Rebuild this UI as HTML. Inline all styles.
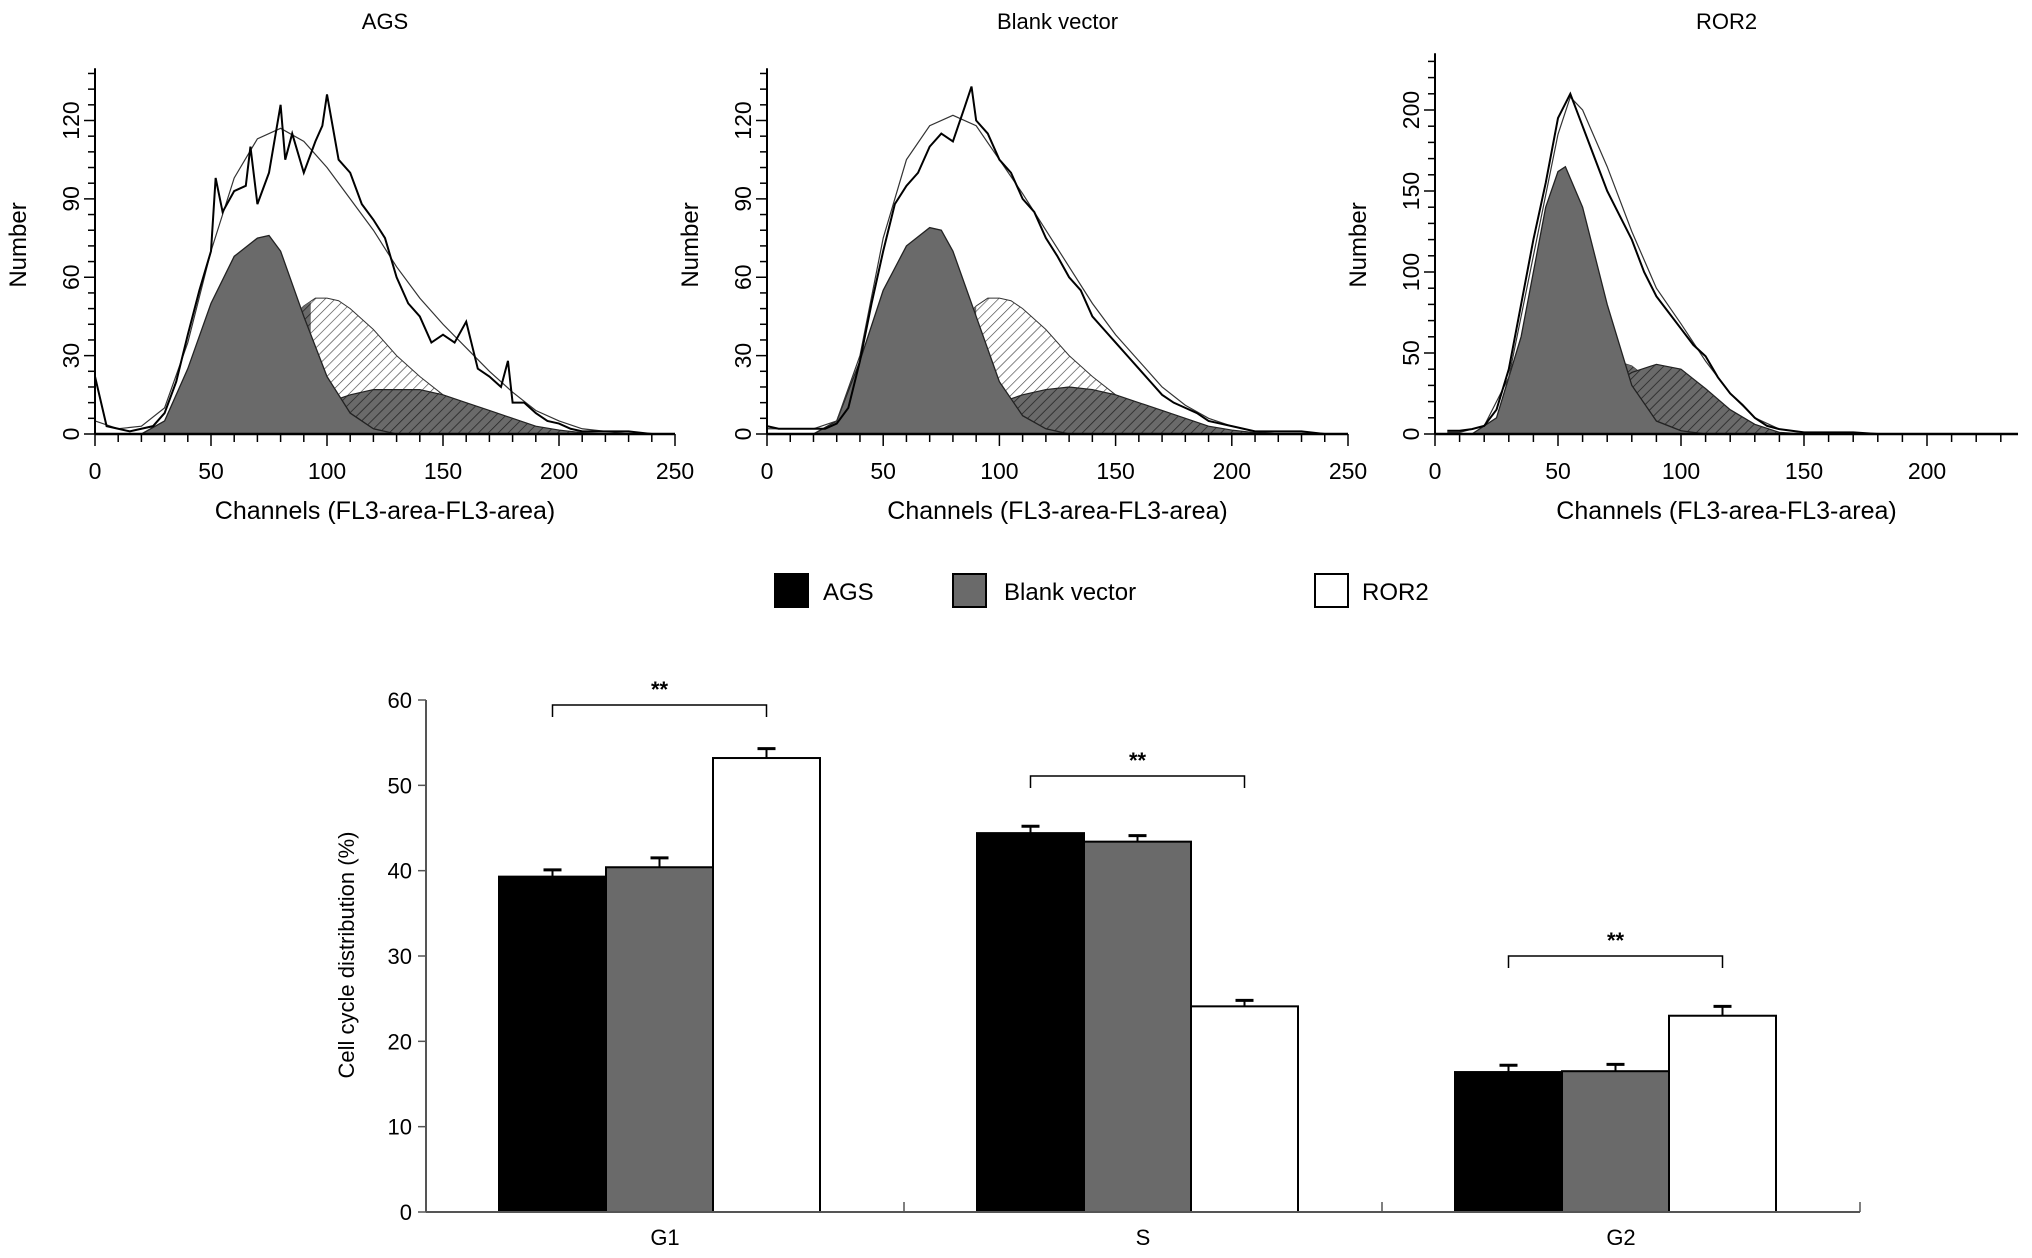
<!DOCTYPE html>
<html><head><meta charset="utf-8">
<style>
html,body{margin:0;padding:0;background:#fff;}
svg{display:block;font-family:"Liberation Sans",Arial,sans-serif;}
</style></head>
<body>
<svg id="fig" width="2032" height="1258" viewBox="0 0 2032 1258">
<defs>
<pattern id="hatchLight" width="7" height="7" patternUnits="userSpaceOnUse" patternTransform="rotate(45)">
<rect width="7" height="7" fill="#fff"/><line x1="0" y1="0" x2="0" y2="7" stroke="#444" stroke-width="1.3"/></pattern>
<pattern id="hatchDark" width="7" height="7" patternUnits="userSpaceOnUse" patternTransform="rotate(45)">
<rect width="7" height="7" fill="#6a6a6a"/><line x1="0" y1="0" x2="0" y2="7" stroke="#222" stroke-width="1.5"/></pattern>
</defs>
</svg>
<script>
// ---------- Histogram data ----------
const agsRawX=[0,5,10,15,20,25,30,35,40,45,50,52,55,60,65,67,70,75,80,82,85,90,95,98,100,105,110,115,120,125,130,135,140,145,150,155,160,165,170,175,178,180,185,190,195,200,205,210,220,230,240,250];
const agsRawY=[22,3,2,1,2,3,8,20,38,55,70,98,85,93,95,110,88,100,126,105,115,100,112,118,130,105,100,88,82,75,60,50,45,35,38,35,43,25,22,18,28,12,12,8,5,4,2,1,1,1,0,0];
const agsFitX=[0,10,20,30,40,50,60,70,80,90,100,110,120,130,140,150,160,170,180,190,200,210,220,230,250];
const agsFitY=[5,2,3,10,35,70,98,113,117,112,102,90,78,64,52,42,33,24,16,9,5,2,1,0,0];
const agsG1X=[20,30,40,50,60,70,75,80,90,100,110,120,130];
const agsG1Y=[0,5,25,50,68,75,76,70,45,22,8,2,0];
const agsSX=[30,40,50,60,70,80,90,95,100,105,110,120,130,140,150,160,170,180,190,200];
const agsSY=[0,3,8,17,28,40,49,52,52,51,48,40,30,22,15,9,5,2,1,0];
const agsG2X=[20,40,60,80,100,110,120,130,140,150,160,170,180,190,200,210,220];
const agsG2Y=[0,1,4,8,12,15,17,17,17,15,12,9,6,3,1.5,0.5,0];

const bvRawX=[0,5,10,15,20,25,30,35,40,45,50,55,60,65,70,75,80,85,88,90,95,100,105,110,115,120,125,130,135,140,145,150,155,160,165,170,175,180,185,190,195,200,205,210,220,230,240,250];
const bvRawY=[3,2,2,2,2,2,4,10,28,50,70,88,95,100,110,115,112,125,133,120,115,105,100,90,85,75,68,60,55,45,40,35,30,25,20,15,12,10,8,5,4,3,2,1,1,1,0,0];
const bvFitX=[0,20,30,40,50,60,70,80,90,100,110,120,130,140,150,160,170,180,190,200,210,220,250];
const bvFitY=[2,2,5,30,75,105,118,122,118,105,92,78,64,50,38,28,18,11,6,3,1,0,0];
const bvG1X=[20,30,40,50,60,70,75,80,90,100,110,120,130];
const bvG1Y=[0,5,28,55,72,79,78,70,45,20,7,2,0];
const bvSX=[30,40,50,60,70,80,90,95,100,105,110,120,130,140,150,160,170,180,190,200];
const bvSY=[0,3,8,17,28,40,49,52,52,51,48,40,30,22,15,9,5,2,1,0];
const bvG2X=[20,40,60,80,100,110,120,130,140,150,160,170,180,190,200,210,220];
const bvG2Y=[0,1,4,8,12,15,17,18,17,15,12,9,6,3,1.5,0.5,0];

const rRawX=[5,10,15,20,25,30,35,40,45,50,55,60,65,70,75,80,85,90,95,100,105,110,115,120,125,130,135,140,145,150,160,170,180,200,230];
const rRawY=[2,2,3,5,15,40,80,120,155,195,210,190,170,150,135,120,100,85,75,65,55,48,35,25,18,10,5,3,2,1,1,1,0,0,0];
const rFitX=[5,10,20,30,40,50,55,60,70,80,90,100,110,120,130,140,150,160,230];
const rFitY=[1,1,5,35,110,185,208,200,165,125,90,68,45,25,10,3,1,0,0];
const rG1X=[15,25,35,45,50,53,60,70,80,90,100,110];
const rG1Y=[0,10,60,140,162,165,140,80,30,8,2,0];
const rSX=[30,40,50,60,70,80,90,100,110,120,130];
const rSY=[0,8,25,40,47,42,30,18,8,3,0];
const rG2X=[40,50,60,70,80,90,100,110,120,130,140,150];
const rG2Y=[0,5,15,28,38,43,40,28,15,6,1,0];

// ---------- Bar chart data ----------
const phases=["G1","S","G2"];
const groups=["AGS","Blank vector","ROR2"];
const agsVals=[39.3,44.4,16.4];
const bvVals=[40.4,43.4,16.5];
const rorVals=[53.2,24.1,23.0];
const agsErr=[0.8,0.8,0.8];
const bvErr=[1.1,0.7,0.8];
const rorErr=[1.1,0.7,1.1];
const barTicks=[0,10,20,30,40,50,60];

const NS="http://www.w3.org/2000/svg";
const svg=document.getElementById("fig");
function mk(tag,attrs,parent){const e=document.createElementNS(NS,tag);for(const k in attrs)e.setAttribute(k,attrs[k]);(parent||svg).appendChild(e);return e;}
function txt(s,attrs,parent){const t=mk("text",attrs,parent);t.textContent=s;return t;}

const panels=[
 {title:"AGS",x0:95,xpx:(675-95)/250,xmax:250,ymaxAxis:140,ypx:(434-120.5)/120,yMajor:30,yMinor:6,yLabMax:120,xLabs:[0,50,100,150,200,250],rx:agsRawX,ry:agsRawY,fx:agsFitX,fy:agsFitY,g1x:agsG1X,g1y:agsG1Y,sx:agsSX,sy:agsSY,g2x:agsG2X,g2y:agsG2Y,split:93},
 {title:"Blank vector",x0:767,xpx:(1348-767)/250,xmax:250,ymaxAxis:140,ypx:(434-120.5)/120,yMajor:30,yMinor:6,yLabMax:120,xLabs:[0,50,100,150,200,250],rx:bvRawX,ry:bvRawY,fx:bvFitX,fy:bvFitY,g1x:bvG1X,g1y:bvG1Y,sx:bvSX,sy:bvSY,g2x:bvG2X,g2y:bvG2Y,split:90},
 {title:"ROR2",x0:1435,xpx:(1927-1435)/200,xmax:237,ymaxAxis:235,ypx:(434-110)/200,yMajor:50,yMinor:10,yLabMax:200,xLabs:[0,50,100,150,200],rx:rRawX,ry:rRawY,fx:rFitX,fy:rFitY,g1x:rG1X,g1y:rG1Y,sx:rSX,sy:rSY,g2x:rG2X,g2y:rG2Y,split:200}
];
const Y0=434;
panels.forEach((p,i)=>{
 const g=mk("g",{});
 
 
 const X=v=>p.x0+v*p.xpx, Yf=v=>Y0-v*p.ypx;
 const path=(xs,ys,close)=>{let d="M"+X(xs[0])+","+(close?Y0:Yf(ys[0]));xs.forEach((x,k)=>{d+=" L"+X(x)+","+Yf(ys[k]);});if(close)d+=" L"+X(xs[xs.length-1])+","+Y0+" Z";return d;};
 const cx=(p.x0+X(p.xmax>240?250:237))/2;
 const t=txt(p.title,{x:cx,y:29,"font-size":22,"text-anchor":"middle"},g);
 
 
 const s=mk("path",{d:path(p.sx,p.sy,true),fill:"url(#hatchLight)",stroke:"#333","stroke-width":1},g);
 
 
 const cid="clip"+i;
 const cp=mk("clipPath",{id:cid},g);
 mk("rect",{x:0,y:0,width:X(p.split),height:Y0},cp);
 const s2=mk("path",{d:path(p.sx,p.sy,true),fill:"url(#hatchDark)","clip-path":"url(#"+cid+")"},g);
 
 
 const g2=mk("path",{d:path(p.g2x,p.g2y,true),fill:"url(#hatchDark)",stroke:"#222","stroke-width":1.2},g);
 
 
 const g1=mk("path",{d:path(p.g1x,p.g1y,true),fill:"#6a6a6a",stroke:"#222","stroke-width":1.3},g);
 
 
 const fit=mk("path",{d:path(p.fx,p.fy,false),fill:"none",stroke:"#333","stroke-width":1.2},g);
 
 
 const raw=mk("path",{d:path(p.rx,p.ry,false),fill:"none",stroke:"#000","stroke-width":2},g);
 
 
 const xa=mk("line",{x1:p.x0,y1:Y0,x2:X(p.xmax),y2:Y0,stroke:"#000","stroke-width":2.5},g);
 
 
 const ya=mk("line",{x1:p.x0,y1:Y0,x2:p.x0,y2:Yf(p.ymaxAxis),stroke:"#000","stroke-width":2},g);
 
 
 for(let v=0;v<=p.xmax;v+=10){const maj=v%50===0;mk("line",{x1:X(v),y1:Y0,x2:X(v),y2:Y0+(maj?12:8),stroke:"#000","stroke-width":1.5},g);}
 p.xLabs.forEach(v=>{const l=txt(String(v),{x:X(v),y:479,"font-size":23,"text-anchor":"middle"},g);
  
  });
 for(let v=0;v<=p.ymaxAxis;v+=p.yMinor){const maj=v%p.yMajor===0;mk("line",{x1:p.x0,y1:Yf(v),x2:p.x0-(maj?11:7),y2:Yf(v),stroke:"#000","stroke-width":1.5},g);}
 for(let v=0;v<=p.yLabMax;v+=p.yMajor){const l=txt(String(v),{x:0,y:0,"font-size":23,"text-anchor":"middle",transform:"translate("+(p.x0-16)+","+Yf(v)+") rotate(-90)"},g);
  
  }
 const xt=txt("Channels (FL3-area-FL3-area)",{x:cx,y:519,"font-size":25,"text-anchor":"middle"},g);
 
 
 const yt=txt("Number",{x:0,y:0,"font-size":24,"text-anchor":"middle",transform:"translate("+(p.x0-69)+",245) rotate(-90)"},g);
 
 
});

// ---------- Legend ----------
const legend=mk("g",{});


const legItems=[{l:groups[0],f:"#000",sx:775,tx:823},{l:groups[1],f:"#6a6a6a",sx:953,tx:1004},{l:groups[2],f:"#fff",sx:1315,tx:1362}];
legItems.forEach(it=>{
 const e=mk("g",{},legend);
 
 
 mk("rect",{x:it.sx,y:574,width:33,height:33,fill:it.f,stroke:"#000","stroke-width":2},e);
 txt(it.l,{x:it.tx,y:600,"font-size":24},e);
});

// ---------- Bar chart ----------
const bx0=426,bx1=1860,by0=1212,by60=700;
const BY=v=>by0-(v-0)*(by0-by60)/60;
const bars=mk("g",{});


const groupW=(bx1-bx0)/3;
const barW=107, lead=73;
const series=[agsVals,bvVals,rorVals], errs=[agsErr,bvErr,rorErr], fills=["#000","#6a6a6a","#fff"];
phases.forEach((ph,gi)=>{
 const gx=bx0+gi*groupW;
 series.forEach((vals,si)=>{
  const x=gx+lead+si*barW, v=vals[gi], e=errs[si][gi];
  const cx=x+barW/2;
  mk("line",{x1:cx,y1:BY(v),x2:cx,y2:BY(v+e),stroke:"#000","stroke-width":2},bars);
  mk("line",{x1:cx-9,y1:BY(v+e),x2:cx+9,y2:BY(v+e),stroke:"#000","stroke-width":3},bars);
  const r=mk("rect",{x:x,y:BY(v),width:barW,height:by0-BY(v),fill:fills[si],stroke:"#000","stroke-width":2},bars);
  
  
 });
 const bl=gx+lead+barW/2, br=gx+lead+2.5*barW;
 const by=gi===0?705:(gi===1?776:956);
 const br_=mk("path",{d:"M"+bl+","+(by+12)+" V"+by+" H"+br+" V"+(by+12),fill:"none",stroke:"#000","stroke-width":1.5},bars);
 
 
 const st=txt("**",{x:(bl+br)/2,y:by-8,"font-size":22,"font-weight":"bold","text-anchor":"middle"},bars);
 
 
 const cl=txt(ph,{x:gx+groupW/2,y:1245,"font-size":22,"text-anchor":"middle"},bars);
 
 
 if(gi>0) mk("line",{x1:gx,y1:by0,x2:gx,y2:by0-10,stroke:"#555","stroke-width":1.5},bars);
});
mk("line",{x1:bx1,y1:by0,x2:bx1,y2:by0-10,stroke:"#555","stroke-width":1.5},bars);
const bxa=mk("line",{x1:bx0,y1:by0,x2:bx1,y2:by0,stroke:"#555","stroke-width":2},bars);


const bya=mk("line",{x1:bx0,y1:by0,x2:bx0,y2:by60,stroke:"#555","stroke-width":2},bars);


barTicks.forEach(v=>{
 mk("line",{x1:bx0-8,y1:BY(v),x2:bx0,y2:BY(v),stroke:"#555","stroke-width":1.5},bars);
 const l=txt(String(v),{x:bx0-14,y:BY(v)+8,"font-size":22,"text-anchor":"end"},bars);
 
 
});
const byt=txt("Cell cycle distribution (%)",{x:0,y:0,"font-size":22,"text-anchor":"middle",transform:"translate(354,955) rotate(-90)"},bars);


</script>
</body></html>
